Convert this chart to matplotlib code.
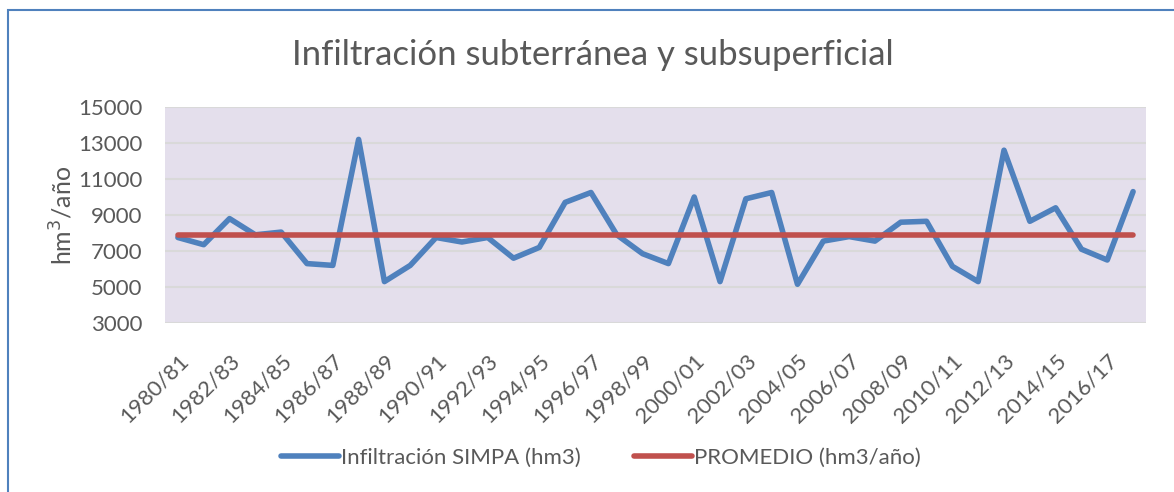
import numpy as np
from matplotlib import pyplot as plt
from matplotlib.patches import Rectangle

# datos
anios = [f"{a}/{(a+1) % 100:02d}" for a in range(1980, 2018)]
infiltracion = [7750, 7350, 8800, 7900, 8050, 6300, 6200, 13200, 5300, 6200,
                7750, 7500, 7750, 6600, 7200, 9700, 10250, 7900, 6850, 6300,
                10000, 5300, 9900, 10250, 5150, 7550, 7800, 7550, 8600, 8650,
                6150, 5300, 12600, 8650, 9400, 7100, 6500, 10300]
promedio = 7900

azul = '#4F81BD'
rojo = '#C0504D'
gris = '#595959'

plt.rcParams['font.family'] = ['Lato', 'DejaVu Sans']

fig = plt.figure(figsize=(11.74, 4.92), dpi=100)
fig.patches.append(Rectangle((8/1174, -0.1), 1.2, (492-10)/492 + 0.1, transform=fig.transFigure,
                             fill=False, edgecolor=azul, lw=1.5))

ax = fig.add_axes([165/1174, 1-323/492, (1146-165)/1174, (323-107)/492])
ax.set_facecolor('#E4DFEC')
x = np.arange(len(anios))
ax.plot(x, infiltracion, color=azul, lw=4, solid_capstyle='round', solid_joinstyle='round',
        label='Infiltración SIMPA (hm3)', zorder=3)
ax.plot(x, [promedio]*len(anios), color=rojo, lw=4, solid_capstyle='round',
        label='PROMEDIO (hm3/año)', zorder=3)

ax.set_xlim(-0.5, len(anios) - 0.5)
ax.set_ylim(3000, 15000)
ax.set_yticks(range(3000, 15001, 2000))
ax.yaxis.grid(True, color='#D9D9D9', lw=1.5)
ax.set_axisbelow(True)
for s in ax.spines.values():
    s.set_visible(False)
ax.tick_params(axis='y', length=0, labelsize=16, colors=gris, pad=16)
ax.tick_params(axis='x', length=0, labelsize=16, colors=gris, pad=20)
ax.set_xticks(x[::2])
ax.set_xticklabels(anios[::2], rotation=45, ha='right', rotation_mode='anchor')
ax.set_ylabel('hm$^3$/año', fontsize=18, color=gris, labelpad=2)

fig.text(593/1174, 1-55/492, 'Infiltración subterránea y subsuperficial', ha='center', va='center',
         fontsize=25, color=gris)

leg = fig.legend(loc='center', bbox_to_anchor=(601/1174, 1-458/492), ncol=2, frameon=False,
                 fontsize=16, labelcolor=gris, handlelength=2.6, handletextpad=0.1, columnspacing=2.4)

fig.savefig('out.png', dpi=100)
